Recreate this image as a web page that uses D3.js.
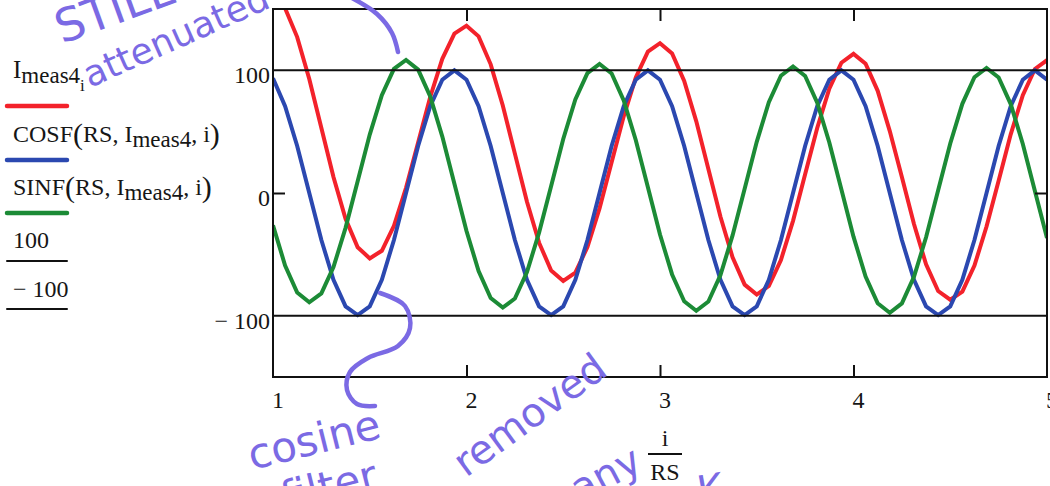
<!DOCTYPE html>
<html>
<head>
<meta charset="utf-8">
<script src="https://cdn.jsdelivr.net/npm/d3@7"></script>
<style>
  body { margin: 0; background: #fff; }
  svg { display: block; }
  .serif { font-family: "Liberation Serif", "Times New Roman", serif; fill: #161616; }
  .ink { font-family: "DejaVu Sans", sans-serif; fill: #7b6ae4; }
</style>
</head>
<body>
<svg id="chart"></svg>
<script>
// samples per unit of i/RS, first sample index shown
var RS = 16,
    iFirst = 16;

var xTicks = [1, 2, 3, 4, 5],
    xInnerTicks = [2, 3, 4],
    yTicks = [100, 0, -100],
    yTickLabels = ['100', '0', '\u2212 100'],
    markerLevels = [100, -100];

// I_meas4 (i = 16 .. 80)
var iMeas4 = [160, 150.6, 127.1, 92.9, 53.0, 13.0, -21.0, -44.2, -53.3, -47.1, -26.8, 4.2, 41.2, 78.3, 109.4, 129.9,
              136.4, 127.7, 104.9, 71.4, 32.1, -7.2, -40.5, -63.2, -71.7, -64.9, -44.1, -12.5, 25.0, 62.5, 94.2, 115.2,
              122.1, 113.8, 91.4, 58.4, 19.5, -19.4, -52.4, -74.7, -82.8, -75.7, -54.6, -22.7, 15.2, 53.0, 85.0, 106.2,
              113.4, 105.4, 83.3, 50.5, 13.0, -25.3, -58.2, -79.9, -87.0, -80.4, -59.2, -27.3, 10.0, 47.8, 79.7, 101.1,
              108.3];

// COSF(RS, I_meas4, i)
var cosf = [93.5, 70.7, 38.3, 0, -38.3, -70.7, -92.4, -99.5, -92.4, -70.7, -38.3, 0, 38.3, 70.7, 92.4, 100,
            92.4, 70.7, 38.3, 0, -38.3, -70.7, -92.4, -99.5, -92.4, -70.7, -38.3, 0, 38.3, 70.7, 92.4, 100,
            92.4, 70.7, 38.3, 0, -38.3, -70.7, -92.4, -99.5, -92.4, -70.7, -38.3, 0, 38.3, 70.7, 92.4, 100,
            92.4, 70.7, 38.3, 0, -38.3, -70.7, -92.4, -99.5, -92.4, -70.7, -38.3, 0, 38.3, 70.7, 92.4, 100,
            92.4];

// SINF(RS, I_meas4, i)
var sinf = [-26.3, -59.1, -81.1, -89.1, -81.8, -60.4, -28.4, 9.6, 47.6, 79.8, 101.2, 108.5, 100.6, 78.7, 46.0, 7.5,
            -31.0, -63.6, -85.6, -93.4, -86.0, -64.5, -32.3, 5.8, 44.0, 76.2, 97.7, 105.2, 97.4, 75.5, 43.0, 4.6,
            -33.9, -66.4, -88.3, -96.0, -88.5, -66.9, -34.6, 3.5, 41.7, 74.0, 95.6, 103.1, 95.4, 73.6, 41.2, 2.8,
            -35.6, -68.1, -89.9, -97.6, -90.0, -68.4, -36.1, 2.2, 40.4, 72.7, 94.4, 101.9, 94.2, 72.5, 40.0, 1.7,
            -36.7];

var traceColors = ['#f3222b', '#2b48b0', '#1c8b36'];

var width = 1050,
    height = 486,
    plot = {left: 273, right: 1047, top: 9, bottom: 377};

var x = d3.scaleLinear().domain([1, 5]).range([plot.left, plot.right]),
    y = d3.scaleLinear().domain([-150, 150]).range([plot.bottom, plot.top]);

var svg = d3.select('#chart')
            .attr('width', width)
            .attr('height', height);

svg.append('rect')
   .attr('width', width)
   .attr('height', height)
   .attr('fill', '#fff');

svg.append('defs')
   .append('clipPath')
   .attr('id', 'plot-clip')
   .append('rect')
   .attr('x', plot.left)
   .attr('y', plot.top)
   .attr('width', plot.right - plot.left)
   .attr('height', plot.bottom - plot.top);

var line = d3.line()
             .x(function(d, j) { return x((iFirst + j) / RS); })
             .y(function(d) { return y(d); });

// traces
var traces = svg.append('g').attr('clip-path', 'url(#plot-clip)');

traces.selectAll('.trace')
      .data([iMeas4, cosf, sinf])
      .enter()
      .append('path')
      .attr('class', 'trace')
      .attr('d', line)
      .attr('fill', 'none')
      .attr('stroke', function(d, i) { return traceColors[i]; })
      .attr('stroke-width', 4)
      .attr('stroke-linejoin', 'miter');

// 100 and -100 marker lines
traces.selectAll('.marker')
      .data(markerLevels)
      .enter()
      .append('line')
      .attr('class', 'marker')
      .attr('x1', plot.left)
      .attr('x2', plot.right)
      .attr('y1', function(d) { return y(d); })
      .attr('y2', function(d) { return y(d); })
      .attr('stroke', '#111')
      .attr('stroke-width', 2);

// frame
svg.append('rect')
   .attr('x', plot.left)
   .attr('y', plot.top)
   .attr('width', plot.right - plot.left)
   .attr('height', plot.bottom - plot.top)
   .attr('fill', 'none')
   .attr('stroke', '#111')
   .attr('stroke-width', 2);

// inward ticks
function styleTicks(g) {
  g.select('.domain').remove();
  g.selectAll('.tick line').attr('stroke', '#111').attr('stroke-width', 2);
}

svg.append('g')
   .attr('transform', 'translate(0,' + plot.bottom + ')')
   .call(d3.axisTop(x).tickValues(xInnerTicks).tickSize(12).tickFormat(''))
   .call(styleTicks);

svg.append('g')
   .attr('transform', 'translate(0,' + plot.top + ')')
   .call(d3.axisBottom(x).tickValues(xInnerTicks).tickSize(12).tickFormat(''))
   .call(styleTicks);

svg.append('g')
   .attr('transform', 'translate(' + plot.left + ',0)')
   .call(d3.axisRight(y).tickValues([0]).tickSize(12).tickFormat(''))
   .call(styleTicks);

svg.append('g')
   .attr('transform', 'translate(' + plot.right + ',0)')
   .call(d3.axisLeft(y).tickValues([0]).tickSize(12).tickFormat(''))
   .call(styleTicks);

// tick labels
svg.selectAll('.xlabel')
   .data(xTicks)
   .enter()
   .append('text')
   .attr('class', 'serif xlabel')
   .attr('x', function(d) { return x(d) + 5; })
   .attr('y', plot.bottom + 31)
   .attr('text-anchor', 'middle')
   .style('font-size', '24px')
   .text(function(d) { return d; });

svg.selectAll('.ylabel')
   .data(yTicks)
   .enter()
   .append('text')
   .attr('class', 'serif ylabel')
   .attr('x', plot.left - 3)
   .attr('y', function(d) { return y(d) + 13; })
   .attr('text-anchor', 'end')
   .style('font-size', '24px')
   .text(function(d, i) { return yTickLabels[i]; });

// axis title i / RS
var title = svg.append('g').attr('transform', 'translate(' + x(3) + ',0)');
title.append('text')
     .attr('class', 'serif')
     .attr('x', 5)
     .attr('y', 446)
     .attr('text-anchor', 'middle')
     .style('font-size', '24px')
     .text('i');
title.append('line')
     .attr('x1', -12).attr('x2', 22)
     .attr('y1', 454).attr('y2', 454)
     .attr('stroke', '#111').attr('stroke-width', 2);
title.append('text')
     .attr('class', 'serif')
     .attr('x', 5)
     .attr('y', 480)
     .attr('text-anchor', 'middle')
     .style('font-size', '24px')
     .text('RS');

// legend
var legend = svg.append('g').attr('class', 'legend');

var l1 = legend.append('text').attr('class', 'serif').attr('x', 13).attr('y', 78).style('font-size', '25px');
l1.append('tspan').text('I');
l1.append('tspan').attr('dy', 5).style('font-size', '23px').text('meas4');
l1.append('tspan').attr('dy', 8).style('font-size', '17px').text('i');

function funcLabel(name, yy) {
  var t = legend.append('text').attr('class', 'serif').attr('x', 13).attr('y', yy).style('font-size', '24px');
  t.append('tspan').text(name);
  t.append('tspan').attr('dy', 2).style('font-size', '30px').text('(');
  t.append('tspan').attr('dy', -2).text('RS, I');
  t.append('tspan').attr('dy', 5).style('font-size', '23px').text('meas4');
  t.append('tspan').attr('dy', -5).text(', i');
  t.append('tspan').attr('dy', 2).style('font-size', '30px').text(')');
}
funcLabel('COSF', 142);
funcLabel('SINF', 195);

legend.append('text').attr('class', 'serif').attr('x', 13).attr('y', 248).style('font-size', '24px').text('100');
legend.append('text').attr('class', 'serif').attr('x', 13).attr('y', 297).style('font-size', '24px').text('\u2212 100');

var swatches = [
  {y: 106, color: traceColors[0], w: 4.5},
  {y: 160, color: traceColors[1], w: 4.5},
  {y: 213, color: traceColors[2], w: 4.5},
  {y: 261, color: '#111', w: 2},
  {y: 309, color: '#111', w: 2}
];
legend.selectAll('.swatch')
      .data(swatches)
      .enter()
      .append('line')
      .attr('x1', 7).attr('x2', 67)
      .attr('y1', function(d) { return d.y; })
      .attr('y2', function(d) { return d.y; })
      .attr('stroke', function(d) { return d.color; })
      .attr('stroke-width', function(d) { return d.w; })
      .attr('stroke-linecap', 'round');

// handwritten notes on the printout
var ink = svg.append('g').attr('class', 'notes');

function note(txt, tx, ty, rot, size) {
  ink.append('text')
     .attr('class', 'ink')
     .attr('transform', 'translate(' + tx + ',' + ty + ') rotate(' + rot + ')')
     .style('font-size', size + 'px')
     .text(txt);
}
note('STILL', 62, 44, -20, 46);
note('attenuated', 90, 88, -24, 36);
note('cosine', 252, 470, -14, 42);
note('filter', 285, 512, -14, 42);
note('removed', 466, 478, -36, 40);
note('many', 545, 522, -28, 40);
note('K', 700, 505, -10, 40);

var scribble = d3.line().curve(d3.curveCatmullRom);
ink.append('path')
   .attr('d', scribble([[352, -2], [377, 14], [392, 33], [398, 52]]))
   .attr('fill', 'none').attr('stroke', '#7b6ae4').attr('stroke-width', 4.5).attr('stroke-linecap', 'round');
ink.append('path')
   .attr('d', scribble([[380, 293], [405, 306], [410, 328], [398, 346], [368, 358], [350, 372], [347, 390], [357, 404], [375, 406]]))
   .attr('fill', 'none').attr('stroke', '#7b6ae4').attr('stroke-width', 4.5).attr('stroke-linecap', 'round');
</script>
</body>
</html>
